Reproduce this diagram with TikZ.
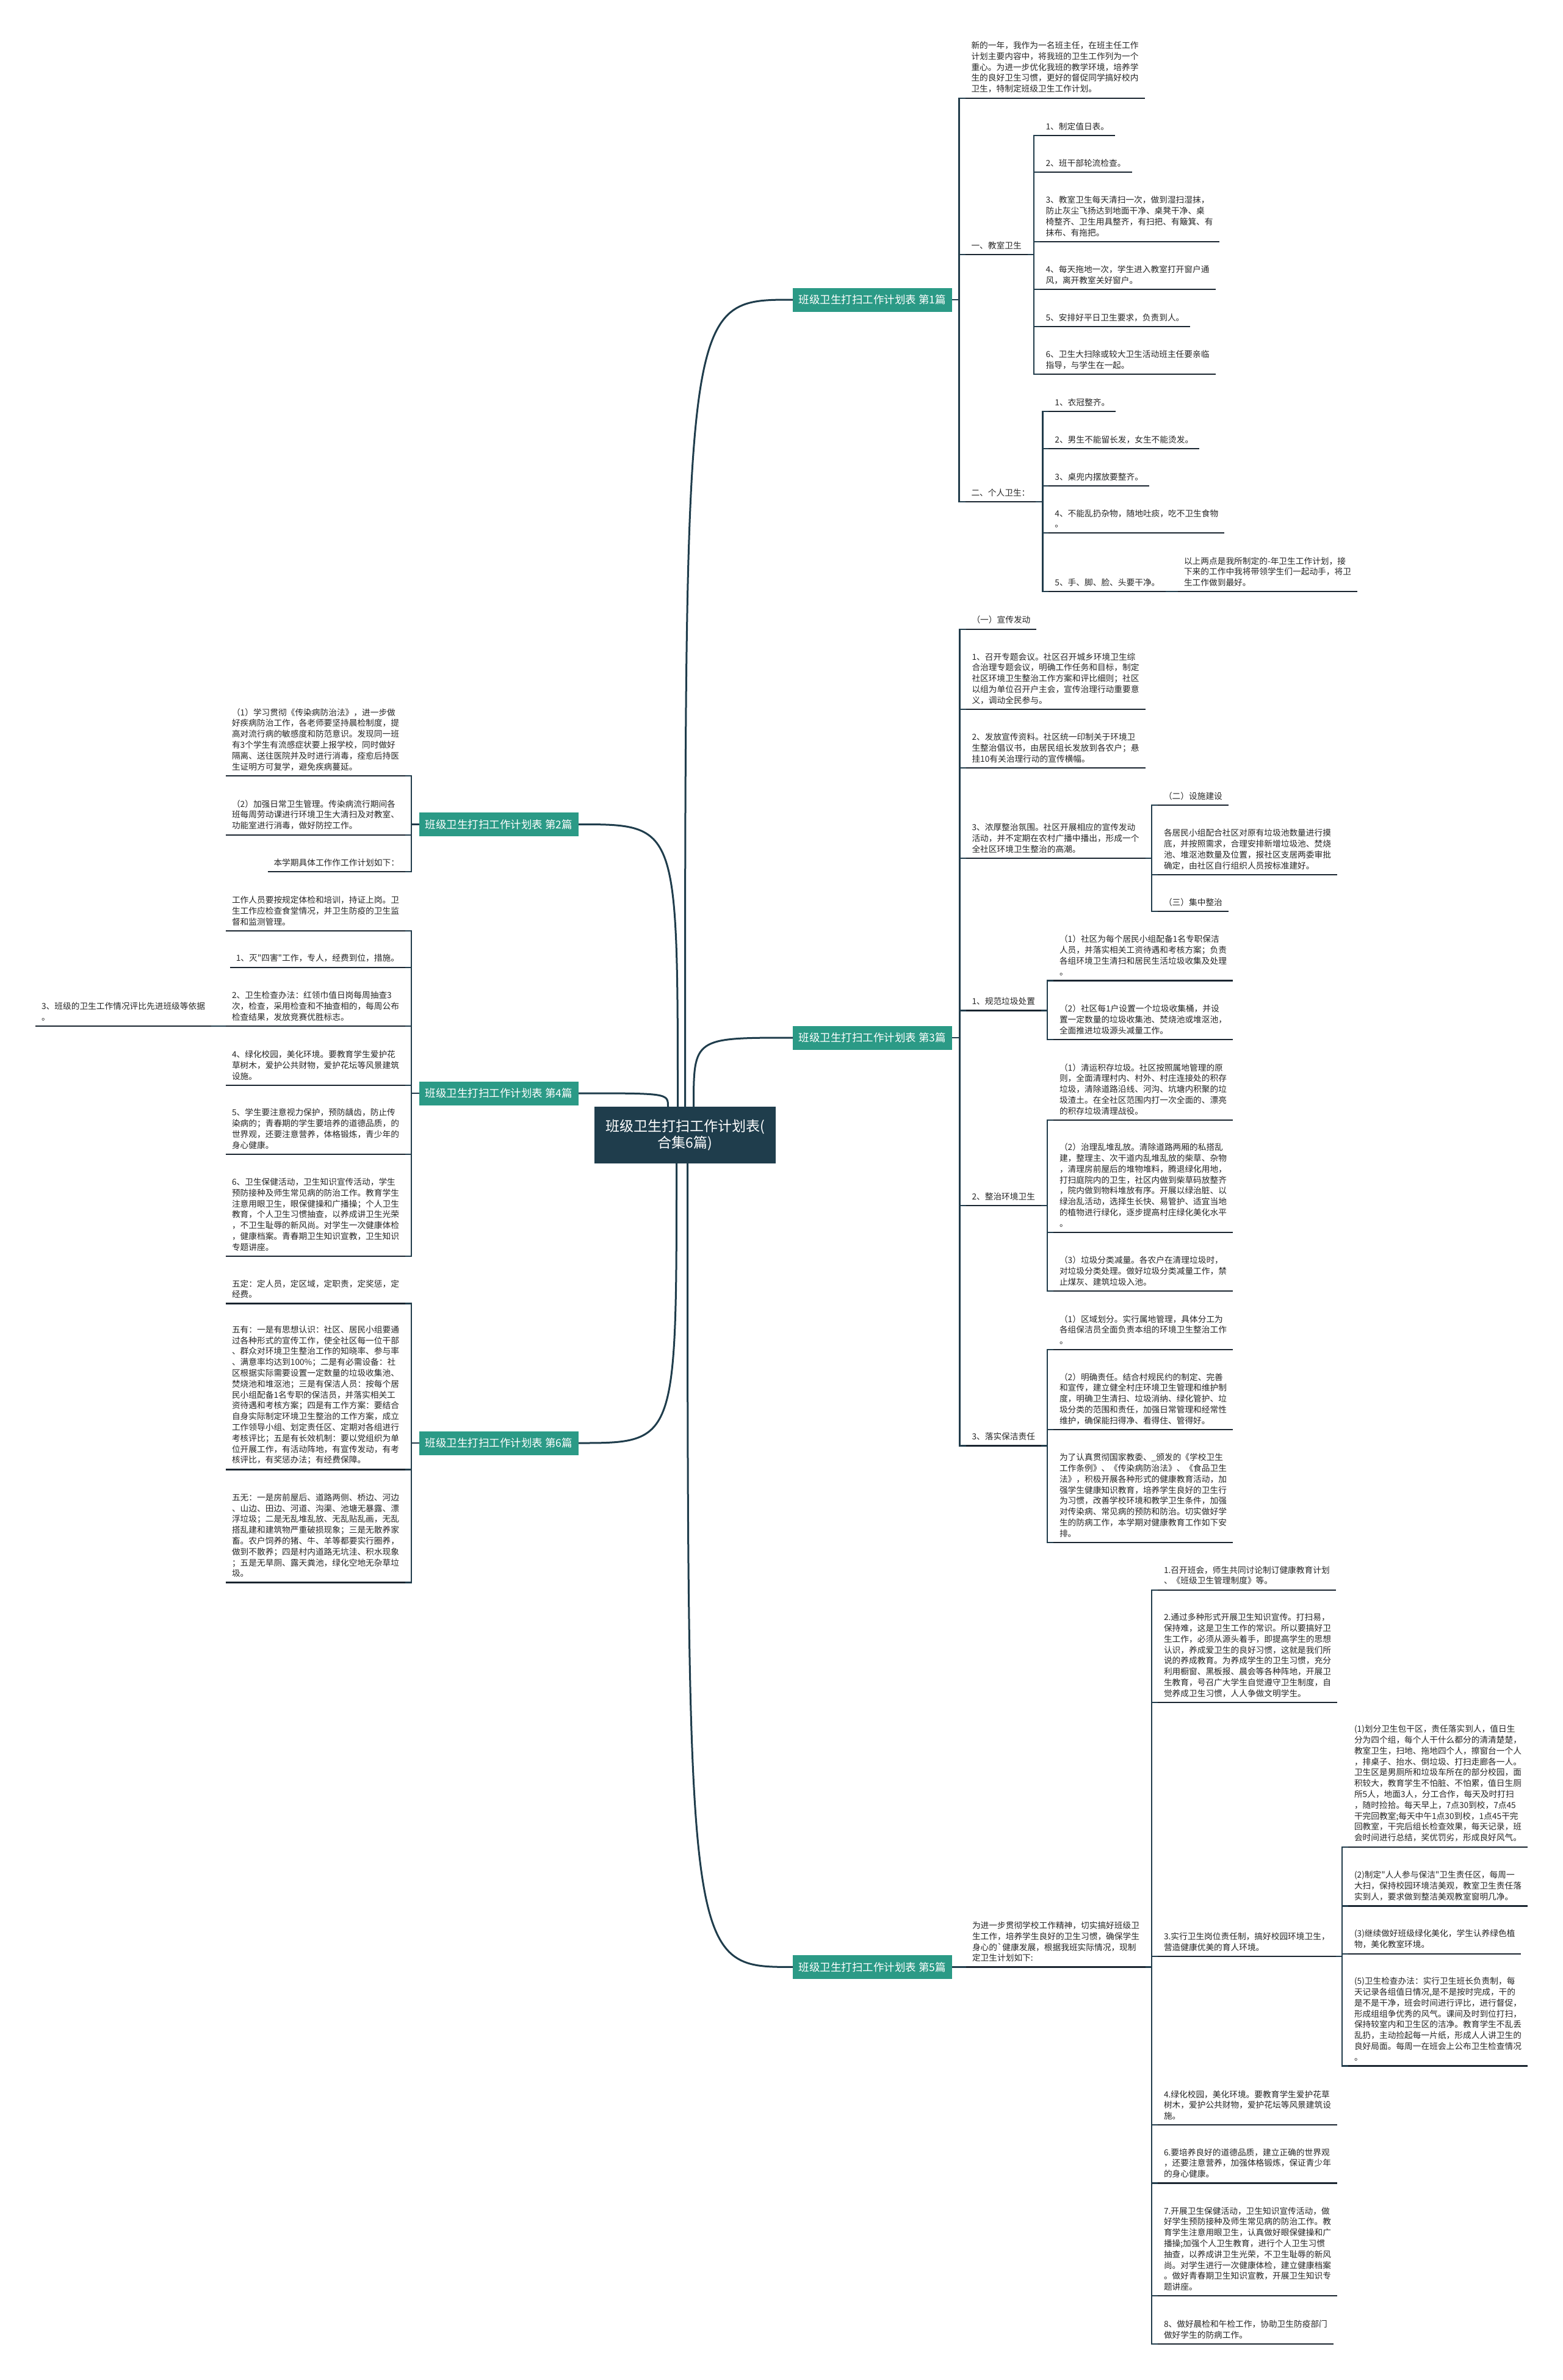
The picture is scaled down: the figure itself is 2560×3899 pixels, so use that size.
\documentclass[tikz,border=0pt]{standalone}
\usepackage{fontspec}
\usepackage{xcolor}
\usepackage{tikz}
\usetikzlibrary{positioning, calc}

\newfontfamily\cjk{Noto Sans CJK SC}

\definecolor{rootcol}{HTML}{1F3D4C}
\definecolor{hubcol}{HTML}{2B9A86}
\definecolor{linkcol}{HTML}{213C4B}
\definecolor{ulcol}{HTML}{1A2530}

\begin{document}
\begin{tikzpicture}[x=1pt, y=-1pt,
  uline/.style={draw=ulcol, line width=2.2pt},
  link/.style={draw=linkcol, line width=2.2pt},
  branch/.style={draw=rootcol, line width=3pt},
  leaf/.style={font=\cjk\fontsize{13.7}{17.8}\selectfont, text=black!85, align=left,
    inner xsep=10pt, inner ysep=8.5pt, outer sep=0pt,
    append after command={(\tikzlastnode.south west) edge[uline] (\tikzlastnode.south east)}},
  rleaf/.style={leaf, anchor=south west},
  lleaf/.style={leaf, anchor=south east},
  hub/.style={fill=hubcol, text=white, font=\cjk\fontsize{17.5}{21}\selectfont,
    minimum width=261pt, minimum height=39pt, inner sep=0pt, outer sep=0pt},
  root/.style={fill=rootcol, text=white, font=\cjk\fontsize{23}{27}\selectfont, align=center,
    minimum width=297pt, minimum height=93pt, inner sep=0pt, outer sep=0pt}]

\path[use as bounding box, fill=white] (0,0) rectangle (2560,3899);

\node[root] (root) at (1122.5,1859.5) {班级卫生打扫工作计划表(\\合集6篇)};

\node[hub] (hub1) at (1429.5,491) {班级卫生打扫工作计划表 第1篇};
\node[hub] (hub2) at (817.5,1350.5) {班级卫生打扫工作计划表 第2篇};
\node[hub] (hub3) at (1429.5,1700) {班级卫生打扫工作计划表 第3篇};
\node[hub] (hub4) at (817.5,1791) {班级卫生打扫工作计划表 第4篇};
\node[hub] (hub5) at (1429.5,3222.4) {班级卫生打扫工作计划表 第5篇};
\node[hub] (hub6) at (817.5,2364) {班级卫生打扫工作计划表 第6篇};

% curves from the root
\coordinate (r1) at ([xshift=0pt]root.north);
\coordinate (r2) at ([xshift=-12pt]root.north);
\coordinate (r3) at ([xshift=14pt]root.north);
\coordinate (r4) at ([xshift=-28pt]root.north);
\coordinate (r5) at ([xshift=4pt]root.south);
\coordinate (r6) at ([xshift=-14pt]root.south);
\draw[branch] (r1) .. controls (r1 |- hub1.west) .. (hub1.west);
\draw[branch] (r2) .. controls (r2 |- hub2.east) .. (hub2.east);
\draw[branch] (r3) .. controls (r3 |- hub3.west) .. (hub3.west);
\draw[branch] (r4) .. controls (r4 |- hub4.east) .. (hub4.east);
\draw[branch] (r5) .. controls (r5 |- hub5.west) .. (hub5.west);
\draw[branch] (r6) .. controls (r6 |- hub6.east) .. (hub6.east);

% 第1篇
\node[rleaf] (a0) at (1581.5,160.7) {新的一年，我作为一名班主任，在班主任工作\\计划主要内容中，将我班的卫生工作列为一个\\重心。为进一步优化我班的教学环境，培养学\\生的良好卫生习惯，更好的督促同学搞好校内\\卫生，特制定班级卫生工作计划。};
\node[rleaf] (a1) at (1581.5,417.3) {一、教室卫生};
\node[rleaf] (a11) at (1703.6,221.7) {1、制定值日表。};
\node[rleaf] (a12) at (1703.6,281.7) {2、班干部轮流检查。};
\node[rleaf] (a13) at (1703.6,395.7) {3、教室卫生每天清扫一次，做到湿扫湿抹，\\防止灰尘飞扬达到地面干净、桌凳干净、桌\\椅整齐、卫生用具整齐，有扫把、有簸箕、有\\抹布、有拖把。};
\node[rleaf] (a14) at (1703.6,474) {4、每天拖地一次，学生进入教室打开窗户通\\风，离开教室关好窗户。};
\node[rleaf] (a15) at (1703.6,535) {5、安排好平日卫生要求，负责到人。};
\node[rleaf] (a16) at (1703.6,613.3) {6、卫生大扫除或较大卫生活动班主任要亲临\\指导，与学生在一起。};
\node[rleaf] (a2) at (1581.5,821.7) {二、个人卫生：};
\node[rleaf] (a21) at (1718.4,674) {1、衣冠整齐。};
\node[rleaf] (a22) at (1718.4,735) {2、男生不能留长发，女生不能烫发。};
\node[rleaf] (a23) at (1718.4,795.7) {3、桌兜内摆放要整齐。};
\node[rleaf] (a24) at (1718.4,873.3) {4、不能乱扔杂物，随地吐痰，吃不卫生食物\\。};
\node[rleaf] (a25) at (1718.4,969.3) {5、手、脚、脸、头要干净。};
\node[rleaf] (a251) at (1930,969.3) {以上两点是我所制定的-年卫生工作计划，接\\下来的工作中我将带领学生们一起动手，将卫\\生工作做到最好。};

\foreach \c in {a0,a1,a2}
  \draw[link] (hub1.east) -| ([xshift=-10pt]\c.south west) -- (\c.south west);
\foreach \c in {a11,a12,a13,a14,a15,a16}
  \draw[link] (a1.south east) -| ([xshift=-10pt]\c.south west) -- (\c.south west);
\foreach \c in {a21,a22,a23,a24,a25}
  \draw[link] (a2.south east) -| ([xshift=-10pt]\c.south west) -- (\c.south west);
\draw[link] (a25.south east) -- (a251.south west);

% 第2篇
\node[lleaf] (b1) at (664,1271) {（1）学习贯彻《传染病防治法》，进一步做\\好疾病防治工作，各老师要坚持晨检制度，提\\高对流行病的敏感度和防范意识。发现同一班\\有3个学生有流感症状要上报学校，同时做好\\隔离、送往医院并及时进行消毒，痊愈后持医\\生证明方可复学，避免疾病蔓延。};
\node[lleaf] (b2) at (664,1367.7) {（2）加强日常卫生管理。传染病流行期间各\\班每周劳动课进行环境卫生大清扫及对教室、\\功能室进行消毒，做好防控工作。};
\node[lleaf] (b3) at (664,1427.7) {本学期具体工作作工作计划如下：};

\foreach \c in {b1,b2,b3}
  \draw[link] (hub2.west) -| ([xshift=10pt]\c.south east) -- (\c.south east);

% 第3篇
\node[rleaf] (c0) at (1582.5,1030.7) {（一）宣传发动};
\node[rleaf] (c1) at (1582.5,1162.3) {1、召开专题会议。社区召开城乡环境卫生综\\合治理专题会议，明确工作任务和目标，制定\\社区环境卫生整治工作方案和评比细则；社区\\以组为单位召开户主会，宣传治理行动重要意\\义，调动全民参与。};
\node[rleaf] (c2) at (1582.5,1257.7) {2、发放宣传资料。社区统一印制关于环境卫\\生整治倡议书，由居民组长发放到各农户；悬\\挂10有关治理行动的宣传横幅。};
\node[rleaf] (c3) at (1582.5,1406) {3、浓厚整治氛围。社区开展相应的宣传发动\\活动，并不定期在农村广播中播出，形成一个\\全社区环境卫生整治的高潮。};
\node[rleaf] (c31) at (1897,1319.3) {（二）设施建设};
\node[rleaf] (c32) at (1897,1433.3) {各居民小组配合社区对原有垃圾池数量进行摸\\底，并按照需求，合理安排新增垃圾池、焚烧\\池、堆沤池数量及位置，报社区支居两委审批\\确定，由社区自行组织人员按标准建好。};
\node[rleaf] (c33) at (1897,1493.3) {（三）集中整治};
\node[rleaf] (c4) at (1582.5,1655.4) {1、规范垃圾处置};
\node[rleaf] (c41) at (1726,1606.4) {（1）社区为每个居民小组配备1名专职保洁\\人员，并落实相关工资待遇和考核方案；负责\\各组环境卫生清扫和居民生活垃圾收集及处理\\。};
\node[rleaf] (c42) at (1726,1702.9) {（2）社区每1户设置一个垃圾收集桶，并设\\置一定数量的垃圾收集池、焚烧池或堆沤池，\\全面推进垃圾源头减量工作。};
\node[rleaf] (c5) at (1582.5,1975) {2、整治环境卫生};
\node[rleaf] (c51) at (1726,1835) {（1）清运积存垃圾。社区按照属地管理的原\\则，全面清理村内、村外、村庄连接处的积存\\垃圾，清除道路沿线、河沟、坑塘内积聚的垃\\圾渣土。在全社区范围内打一次全面的、漂亮\\的积存垃圾清理战役。};
\node[rleaf] (c52) at (1726,2018.6) {（2）治理乱堆乱放。清除道路两厢的私搭乱\\建，整理主、次干道内乱堆乱放的柴草、杂物\\，清理房前屋后的堆物堆料，腾退绿化用地，\\打扫庭院内的卫生，社区内做到柴草码放整齐\\，院内做到物料堆放有序。开展以绿治脏、以\\绿治乱活动，选择生长快、易管护、适宜当地\\的植物进行绿化，逐步提高村庄绿化美化水平\\。};
\node[rleaf] (c53) at (1726,2114.6) {（3）垃圾分类减量。各农户在清理垃圾时，\\对垃圾分类处理。做好垃圾分类减量工作，禁\\止煤灰、建筑垃圾入池。};
\node[rleaf] (c6) at (1582.5,2368.4) {3、落实保洁责任};
\node[rleaf] (c61) at (1726,2211) {（1）区域划分。实行属地管理，具体分工为\\各组保洁员全面负责本组的环境卫生整治工作\\。};
\node[rleaf] (c62) at (1726,2342.3) {（2）明确责任。结合村规民约的制定、完善\\和宣传，建立健全村庄环境卫生管理和维护制\\度，明确卫生清扫、垃圾消纳、绿化管护、垃\\圾分类的范围和责任，加强日常管理和经常性\\维护，确保能扫得净、看得住、管得好。};
\node[rleaf] (c63) at (1726,2526.8) {为了认真贯彻国家教委、\_颁发的《学校卫生\\工作条例》、《传染病防治法》、《食品卫生\\法》，积极开展各种形式的健康教育活动，加\\强学生健康知识教育，培养学生良好的卫生行\\为习惯，改善学校环境和教学卫生条件，加强\\对传染病、常见病的预防和防治。切实做好学\\生的防病工作，本学期对健康教育工作如下安\\排。};

\foreach \c in {c0,c1,c2,c3,c4,c5,c6}
  \draw[link] (hub3.east) -| ([xshift=-10pt]\c.south west) -- (\c.south west);
\foreach \c in {c31,c32,c33}
  \draw[link] (c3.south east) -| ([xshift=-10pt]\c.south west) -- (\c.south west);
\foreach \c in {c41,c42}
  \draw[link] (c4.south east) -| ([xshift=-10pt]\c.south west) -- (\c.south west);
\foreach \c in {c51,c52,c53}
  \draw[link] (c5.south east) -| ([xshift=-10pt]\c.south west) -- (\c.south west);
\foreach \c in {c61,c62,c63}
  \draw[link] (c6.south east) -| ([xshift=-10pt]\c.south west) -- (\c.south west);

% 第4篇
\node[lleaf] (d0) at (664,1524.7) {工作人员要按规定体检和培训，持证上岗。卫\\生工作应检查食堂情况，并卫生防疫的卫生监\\督和监测管理。};
\node[lleaf] (d1) at (664,1584.9) {1、灭"四害"工作，专人，经费到位，措施。};
\node[lleaf] (d2) at (664,1681) {2、卫生检查办法：红领巾值日岗每周抽查3\\次，检查，采用检查和不抽查相的，每周公布\\检查结果，发放竞赛优胜标志。};
\node[lleaf] (d21) at (346,1681) {3、班级的卫生工作情况评比先进班级等依据\\。};
\node[lleaf] (d4) at (664,1777.8) {4、绿化校园，美化环境。要教育学生爱护花\\草树木，爱护公共财物，爱护花坛等风景建筑\\设施。};
\node[lleaf] (d5) at (664,1890.7) {5、学生要注意视力保护，预防龋齿，防止传\\染病的；青春期的学生要培养的道德品质，的\\世界观，还要注意营养，体格锻炼，青少年的\\身心健康。};
\node[lleaf] (d6) at (664,2057.9) {6、卫生保健活动，卫生知识宣传活动，学生\\预防接种及师生常见病的防治工作。教育学生\\注意用眼卫生，眼保健操和广播操；个人卫生\\教育，个人卫生习惯抽查，以养成讲卫生光荣\\，不卫生耻辱的新风尚。对学生一次健康体检\\，健康档案。青春期卫生知识宣教，卫生知识\\专题讲座。};

\foreach \c in {d0,d1,d2,d4,d5,d6}
  \draw[link] (hub4.west) -| ([xshift=10pt]\c.south east) -- (\c.south east);
\draw[link] (d2.south west) -- (d21.south east);

% 第5篇
\node[rleaf] (e0) at (1583,3222.4) {为进一步贯彻学校工作精神，切实搞好班级卫\\生工作，培养学生良好的卫生习惯，确保学生\\身心的`健康发展，根据我班实际情况，现制\\定卫生计划如下:};
\node[rleaf] (e1) at (1897,2604.6) {1.召开班会，师生共同讨论制订健康教育计划\\、《班级卫生管理制度》等。};
\node[rleaf] (e2) at (1897,2789.3) {2.通过多种形式开展卫生知识宣传。打扫易，\\保持难，这是卫生工作的常识。所以要搞好卫\\生工作，必须从源头着手，即提高学生的思想\\认识，养成爱卫生的良好习惯，这就是我们所\\说的养成教育。为养成学生的卫生习惯，充分\\利用橱窗、黑板报、晨会等各种阵地，开展卫\\生教育，号召广大学生自觉遵守卫生制度，自\\觉养成卫生习惯，人人争做文明学生。};
\node[rleaf] (e3) at (1897,3204.6) {3.实行卫生岗位责任制，搞好校园环境卫生，\\营造健康优美的育人环境。};
\node[rleaf] (e31) at (2209,3025.7) {(1)划分卫生包干区，责任落实到人，值日生\\分为四个组，每个人干什么都分的清清楚楚，\\教室卫生，扫地、拖地四个人，擦窗台一个人\\，排桌子、抬水、倒垃圾、打扫走廊各一人。\\卫生区是男厕所和垃圾车所在的部分校园，面\\积较大，教育学生不怕脏、不怕累，值日生厕\\所5人，地面3人，分工合作，每天及时打扫\\，随时捡拾。每天早上，7点30到校，7点45\\干完回教室;每天中午1点30到校，1点45干完\\回教室，干完后组长检查效果，每天记录，班\\会时间进行总结，奖优罚劣，形成良好风气。};
\node[rleaf] (e32) at (2209,3122.5) {(2)制定"人人参与保洁"卫生责任区，每周一\\大扫，保持校园环境洁美观，教室卫生责任落\\实到人，要求做到整洁美观教室窗明几净。};
\node[rleaf] (e33) at (2209,3200.7) {(3)继续做好班级绿化美化，学生认养绿色植\\物，美化教室环境。};
\node[rleaf] (e35) at (2209,3384.5) {(5)卫生检查办法：实行卫生班长负责制，每\\天记录各组值日情况,是不是按时完成，干的\\是不是干净，班会时间进行评比，进行督促，\\形成组组争优秀的风气。课间及时到位打扫，\\保持较室内和卫生区的洁净。教育学生不乱丢\\乱扔，主动捡起每一片纸，形成人人讲卫生的\\良好局面。每周一在班会上公布卫生检查情况\\。};
\node[rleaf] (e4) at (1897,3481.3) {4.绿化校园，美化环境。要教育学生爱护花草\\树木，爱护公共财物，爱护花坛等风景建筑设\\施。};
\node[rleaf] (e6) at (1897,3576.4) {6.要培养良好的道德品质，建立正确的世界观\\，还要注意营养，加强体格锻炼，保证青少年\\的身心健康。};
\node[rleaf] (e7) at (1897,3761.3) {7.开展卫生保健活动，卫生知识宣传活动，做\\好学生预防接种及师生常见病的防治工作。教\\育学生注意用眼卫生，认真做好眼保健操和广\\播操;加强个人卫生教育，进行个人卫生习惯\\抽查，以养成讲卫生光荣，不卫生耻辱的新风\\尚。对学生进行一次健康体检，建立健康档案\\。做好青春期卫生知识宣教，开展卫生知识专\\题讲座。};
\node[rleaf] (e8) at (1897,3839.8) {8、做好晨检和午检工作，协助卫生防疫部门\\做好学生的防病工作。};

\draw[link] (hub5.east) -- (e0.south west);
\foreach \c in {e1,e2,e3,e4,e6,e7,e8}
  \draw[link] (e0.south east) -| ([xshift=-10pt]\c.south west) -- (\c.south west);
\foreach \c in {e31,e32,e33,e35}
  \draw[link] (e3.south east) -| ([xshift=-10pt]\c.south west) -- (\c.south west);

% 第6篇
\node[lleaf] (f1) at (664,2135.4) {五定：定人员，定区域，定职责，定奖惩，定\\经费。};
\node[lleaf] (f2) at (664,2407.5) {五有：一是有思想认识：社区、居民小组要通\\过各种形式的宣传工作，使全社区每一位干部\\、群众对环境卫生整治工作的知晓率、参与率\\、满意率均达到100\%；二是有必需设备：社\\区根据实际需要设置一定数量的垃圾收集池、\\焚烧池和堆沤池；三是有保洁人员：按每个居\\民小组配备1名专职的保洁员，并落实相关工\\资待遇和考核方案；四是有工作方案：要结合\\自身实际制定环境卫生整治的工作方案，成立\\工作领导小组、划定责任区、定期对各组进行\\考核评比；五是有长效机制：要以党组织为单\\位开展工作，有活动阵地，有宣传发动，有考\\核评比，有奖惩办法；有经费保障。};
\node[lleaf] (f3) at (664,2592.5) {五无：一是房前屋后、道路两侧、桥边、河边\\、山边、田边、河道、沟渠、池塘无暴露、漂\\浮垃圾；二是无乱堆乱放、无乱贴乱画，无乱\\搭乱建和建筑物严重破损现象；三是无散养家\\畜。农户饲养的猪、牛、羊等都要实行圈养，\\做到不散养；四是村内道路无坑洼、积水现象\\；五是无旱厕、露天粪池，绿化空地无杂草垃\\圾。};

\foreach \c in {f1,f2,f3}
  \draw[link] (hub6.west) -| ([xshift=10pt]\c.south east) -- (\c.south east);

\end{tikzpicture}
\end{document}
